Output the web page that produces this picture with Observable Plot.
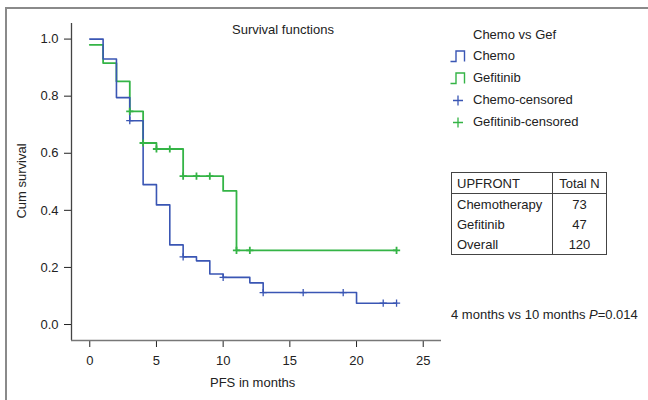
<!DOCTYPE html>
<html>
<head>
<meta charset="utf-8">
<script src="https://cdn.jsdelivr.net/npm/d3@7"></script>
<script src="https://cdn.jsdelivr.net/npm/@observablehq/plot@0.6"></script>
<style>
  html, body { margin: 0; padding: 0; background: #fff; }
  #wrap { position: relative; width: 648px; height: 400px; overflow: hidden;
          font-family: "Liberation Sans", Arial, sans-serif; color: #222; }
  #frame { position: absolute; left: 5px; top: 7px; width: 660px; height: 420px;
           border-top: 2px solid #8a8a8a; border-left: 2px solid #8a8a8a; pointer-events: none; }
  .abs { position: absolute; white-space: nowrap; font-size: 13px; line-height: 15px; }
  #tbl { position: absolute; left: 451px; top: 172px; border-collapse: collapse; table-layout: fixed;
         border: 1.2px solid #444; font-size: 13px; width: 154px; }
  #tbl td, #tbl th { padding: 0 0 0 5px; height: 20px; font-weight: normal; text-align: left; overflow: visible; white-space: nowrap; }
  #tbl th { border-bottom: 1.2px solid #444; }
  #tbl .c1 { width: 95px; }
  #tbl .c2 { border-left: 1.2px solid #444; text-align: center; padding: 0; width: 53px; }
</style>
</head>
<body>
<div id="wrap"></div>
<script>
// ---- data ----
const chemoTime = [0, 1, 2, 3, 4, 5, 6, 7, 8, 9, 10, 12, 13, 20, 23];
const chemoSurv = [1.0, 0.930, 0.795, 0.714, 0.490, 0.419, 0.279, 0.237, 0.223, 0.177, 0.165, 0.146, 0.112, 0.0746, 0.0746];
const chemoCensorTime = [3, 7, 10, 13, 16, 19, 22, 23];

const gefTime = [0, 1, 2, 3, 4, 5, 7, 10, 11, 23];
const gefSurv = [0.980, 0.916, 0.852, 0.747, 0.636, 0.615, 0.520, 0.468, 0.260, 0.260];
const gefCensorTime = [3, 4, 5, 6, 7, 8, 9, 11, 12, 23];

const xTicks = [0, 5, 10, 15, 20, 25];
const yTicks = [0, 0.2, 0.4, 0.6, 0.8, 1.0];
const xDomain = [-1.37, 26.37];
const yDomain = [-0.056, 1.0546];

const tableHeader = ["UPFRONT", "Total N"];
const tableGroups = ["Chemotherapy", "Gefitinib", "Overall"];
const tableN = [73, 47, 120];

const legendTitle = "Chemo vs Gef";
const legendLabels = ["Chemo", "Gefitinib", "Chemo-censored", "Gefitinib-censored"];

const blue = "#3a56b4";
const green = "#34b446";

// ---- build tables ----
const curve = (times, surv, group) => times.map((t, i) => ({t, s: surv[i], group}));
const stepAt = (times, surv, t) => { let v = surv[0]; times.forEach((tt, i) => { if (tt <= t) v = surv[i]; }); return v; };
const chemoLine = curve(chemoTime, chemoSurv, "Chemo");
const gefLine = curve(gefTime, gefSurv, "Gefitinib");
const chemoCens = chemoCensorTime.map(t => ({t, s: stepAt(chemoTime, chemoSurv, t)}));
const gefCens = gefCensorTime.map(t => ({t, s: stepAt(gefTime, gefSurv, t)}));

const thinPlus = {
  draw(ctx, size) {
    const r = Math.sqrt(size / Math.PI);
    ctx.moveTo(-r, 0); ctx.lineTo(r, 0);
    ctx.moveTo(0, -r); ctx.lineTo(0, r);
  }
};

const plot = Plot.plot({
  width: 648, height: 400,
  marginLeft: 71, marginRight: 207, marginTop: 23, marginBottom: 60,
  style: {fontFamily: "'Liberation Sans', Arial, sans-serif", fontSize: "13px", color: "#222", background: "transparent"},
  x: {domain: xDomain, ticks: xTicks, tickSize: 7, tickPadding: 8, label: null},
  y: {domain: yDomain, ticks: yTicks, tickFormat: d3.format(".1f"), tickSize: 7, tickPadding: 6, label: null},
  marks: [
    Plot.ruleX([xDomain[0]], {stroke: "#444", strokeWidth: 1.3}),
    Plot.ruleY([yDomain[0]], {stroke: "#777", strokeWidth: 1.3}),
    Plot.line(gefLine, {x: "t", y: "s", curve: "step-after", stroke: green, strokeWidth: 1.8}),
    Plot.line(chemoLine, {x: "t", y: "s", curve: "step-after", stroke: blue, strokeWidth: 1.6}),
    Plot.dot(gefCens, {x: "t", y: "s", symbol: thinPlus, r: 3.6, stroke: green, strokeWidth: 1.8, fill: "none"}),
    Plot.dot(chemoCens, {x: "t", y: "s", symbol: thinPlus, r: 3.6, stroke: blue, strokeWidth: 1.3, fill: "none"})
  ]
});

const wrap = document.getElementById("wrap");
plot.style.position = "absolute";
plot.style.left = "0px";
plot.style.top = "0px";
wrap.appendChild(plot);

const frame = document.createElement("div");
frame.id = "frame";
wrap.appendChild(frame);

function addText(txt, left, top, html) {
  const d = document.createElement("div");
  d.className = "abs";
  d.style.left = left + "px";
  d.style.top = top + "px";
  if (html) d.innerHTML = txt; else d.textContent = txt;
  wrap.appendChild(d);
  return d;
}

// title and axis labels
addText("Survival functions", 232, 22);
addText("PFS in months", 210, 375);
const yl = addText("Cum survival", 0, 0);
yl.style.left = "21px";
yl.style.top = "181px";
yl.style.transform = "translate(-50%, -50%) rotate(-90deg)";

// legend
addText(legendTitle, 473, 27);
const legendY = [49, 71, 93, 115];
const legendColors = [blue, green, blue, green];
legendLabels.forEach((lab, i) => {
  addText(lab, 473, legendY[i] - 1);
  const svg = d3.create("svg").attr("width", 18).attr("height", 14)
    .style("position", "absolute").style("left", "449px").style("top", legendY[i] + "px");
  if (i < 2) {
    svg.append("path").attr("d", "M1.5,12.5 H7 V2 H15.5 V12.5").attr("fill", "none")
      .attr("stroke", legendColors[i]).attr("stroke-width", 1.4);
  } else {
    svg.append("path").attr("d", "M4,7.5 H14 M9,2.5 V12.5").attr("fill", "none")
      .attr("stroke", legendColors[i]).attr("stroke-width", 1.3);
  }
  wrap.appendChild(svg.node());
});

// table
const tbl = document.createElement("table");
tbl.id = "tbl";
let h = "<tr><th class='c1'>" + tableHeader[0] + "</th><th class='c2'>" + tableHeader[1] + "</th></tr>";
tableGroups.forEach((g, i) => { h += "<tr><td class='c1'>" + g + "</td><td class='c2'>" + tableN[i] + "</td></tr>"; });
tbl.innerHTML = h;
wrap.appendChild(tbl);

// p-value note
addText("4 months vs 10 months <i>P</i>=0.014", 451, 307, true);
</script>
</body>
</html>
